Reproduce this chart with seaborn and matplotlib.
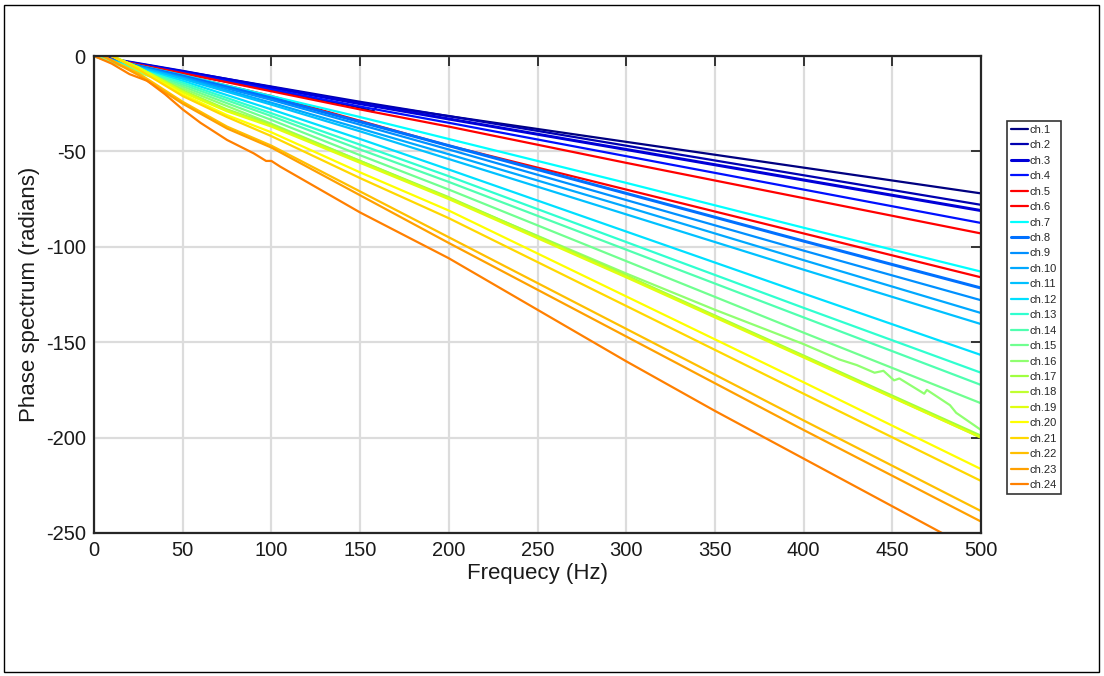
import numpy as np
import pandas as pd
import matplotlib
matplotlib.use("Agg")
import matplotlib.pyplot as plt
from matplotlib.patches import Rectangle
import seaborn as sns

# ---------------- data ----------------
channels = [f"ch.{i}" for i in range(1, 25)]

colors = ["#000080", "#0000b0", "#0000d8", "#0010ff", "#ff0000", "#ff0000",
          "#00ffff", "#0070ff", "#0090ff", "#00a8ff", "#00c0ff", "#00e0ff",
          "#30ffd0", "#50ffb0", "#70ff90", "#90ff70", "#a0ff40", "#c0ff30",
          "#e0ff10", "#ffff00", "#ffd800", "#ffbf00", "#ffa000", "#ff8000"]

f01 = [0, 50, 100, 150, 157, 160, 200, 300, 400, 500]
v01 = [0, -9, -18, -27, -29, -26, -31.5, -45, -58.5, -72]
fstd = [0, 50, 100, 150, 200, 300, 400, 500]
v02 = [0, -8, -16, -24, -31.5, -47, -62.5, -78]
v03 = [0, -8, -16.5, -25, -33, -49, -65, -81]
v04 = [0, -8.5, -17.5, -26.5, -35, -52.5, -70, -87.5]
v05 = [0, -9, -18.5, -28, -37, -56, -74.5, -93]
v06 = [0, -10, -21, -34, -47, -70, -93, -116]
v07 = [0, -10, -21, -32, -43.5, -66.5, -90, -113]
v08 = [0, -10.5, -22, -34.5, -47, -72, -97, -121.6]
v09 = [0, -11, -23, -36, -49, -75.5, -102, -128]
v10 = [0, -11.5, -24.5, -38, -51.5, -79, -107, -134.7]
v11 = [0, -12, -25.5, -39.5, -54, -83, -112, -140.5]
v12 = [0, -13, -28, -43.5, -59.5, -92, -124.5, -156.7]
v13 = [0, -14, -30, -46.5, -63, -97.5, -132, -166]
v14 = [0, -15, -31.5, -49, -66, -101.5, -137, -172.4]
v15 = [0, -16, -33.5, -52, -70, -107.5, -145, -182]
f16 = [0, 50, 100, 150, 200, 300, 350, 400, 420, 430, 440, 445, 451, 454, 468,
       469.5, 482.5, 486, 500]
v16 = [0, -17, -35.5, -55, -74.5, -114, -133, -151, -159, -162, -166, -165,
       -170, -169, -177, -175, -183, -187, -196]
fy = [10, 25, 50, 75, 100, 150, 200, 300, 400, 500]
v17 = [0, -6, -18, -28, -36, -55, -74, -115, -157, -199]
v18 = [0, -6, -18.5, -28.5, -36.5, -55.5, -74.5, -115.5, -157.5, -200]
v19 = [0, -6, -19, -29, -37, -56, -75, -116, -158, -200]
v20 = [0, -7, -20, -31, -40, -61, -81, -126, -171, -216.5]
v21 = [0, -7, -21, -32, -42, -64, -85, -131, -177, -222.7]
fo = [5, 25, 50, 75, 100, 150, 200, 300, 400, 500]
v22 = [0, -9, -24, -37, -47, -71, -95, -143, -191, -238.5]
v23 = [0, -10, -25, -38, -48, -73, -98, -147, -196, -244]
f24 = [0, 10, 20, 30, 40, 50, 60, 75, 90, 97, 100, 105, 150, 200, 250, 300,
       350, 400, 450, 478]
v24 = [0, -4, -9.5, -13, -20, -28, -35, -44, -51, -55, -55, -58, -82, -106,
       -133, -160, -186, -211, -236, -250]

freqs = [f01, fstd, fstd, fstd, fstd, fstd, fstd, fstd, fstd, fstd, fstd, fstd,
         fstd, fstd, fstd, f16, fy, fy, fy, fy, fy, fo, fo, f24]
phases = [v01, v02, v03, v04, v05, v06, v07, v08, v09, v10, v11, v12,
          v13, v14, v15, v16, v17, v18, v19, v20, v21, v22, v23, v24]

x_ticks = [0, 50, 100, 150, 200, 250, 300, 350, 400, 450, 500]
y_ticks = [0, -50, -100, -150, -200, -250]

# ---------------- figure ----------------
sns.set_style("white")
plt.rcParams['font.family'] = ['Liberation Sans', 'DejaVu Sans']
plt.rcParams['axes.unicode_minus'] = False

fig = plt.figure(figsize=(11.04, 6.76), dpi=100)
ax = fig.add_axes([94 / 1104, 1 - 533 / 676, 887 / 1104, 477 / 676])

rows = []
for ch, fr, ph in zip(channels, freqs, phases):
    for i, (a, b) in enumerate(zip(fr, ph)):
        rows.append((ch, i, a, b))
df = pd.DataFrame(rows, columns=["channel", "order", "freq", "phase"])

widths = {ch: 1.6 for ch in channels}
widths["ch.3"] = 2.2
widths["ch.8"] = 2.2

for ch, col in zip(channels, colors):
    sub = df[df.channel == ch]
    sns.lineplot(data=sub, x="freq", y="phase", color=col, lw=widths[ch],
                 sort=False, estimator=None, ax=ax, label=ch, legend=False)

ax.set_xlim(0, 500)
ax.set_ylim(-250, 0)
ax.set_xticks(x_ticks)
ax.set_yticks(y_ticks)
ax.tick_params(direction="in", length=7, width=1.3, top=True, right=True,
               labelsize=14.5, colors="#262626", pad=6)
ax.tick_params(axis="both", labelcolor="#1a1a1a")
ax.grid(True, color="#dcdcdc", lw=1.6)
ax.set_axisbelow(True)
for s in ax.spines.values():
    s.set_color("#262626")
    s.set_linewidth(1.6)
ax.set_xlabel("Frequecy (Hz)", fontsize=16, color="#1a1a1a", labelpad=2)
ax.set_ylabel("Phase spectrum (radians)", fontsize=16, color="#1a1a1a", labelpad=4)

handles = ax.get_lines()[:24]
leg = fig.legend(handles, channels, loc="upper left",
                 bbox_to_anchor=(1007 / 1104, 1 - 121 / 676),
                 fontsize=8, handlelength=1.5, handletextpad=0.2,
                 labelspacing=0.49, borderpad=0.35, frameon=True, fancybox=False,
                 borderaxespad=0)
leg.get_frame().set_edgecolor("black")
leg.get_frame().set_linewidth(1.2)

fig.patches.append(Rectangle((4 / 1104, 4 / 676), 1095 / 1104, 667 / 676,
                             transform=fig.transFigure, fill=False,
                             edgecolor="black", lw=1.0))

fig.savefig("out.png", dpi=100)
